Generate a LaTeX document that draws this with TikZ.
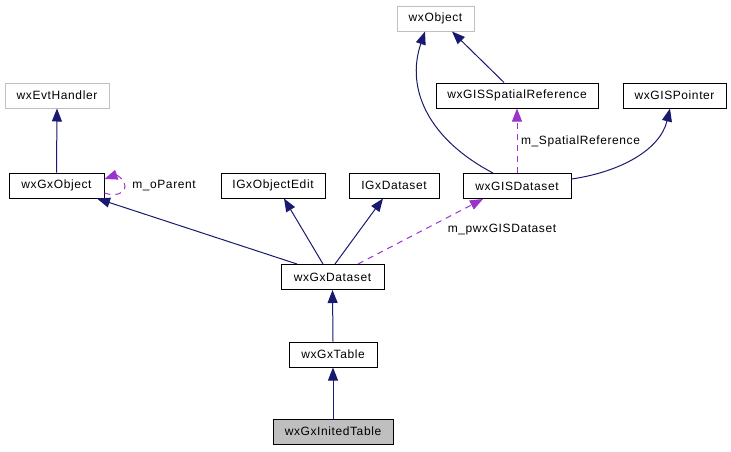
\documentclass[tikz,border=0pt]{standalone}
\usepackage{fontspec}
\setmainfont[LetterSpace=5]{Liberation Sans}
\usetikzlibrary{arrows.meta}
\definecolor{edgeblue}{HTML}{191970}
\definecolor{edgepurple}{HTML}{9A32CD}
\definecolor{boxgray}{HTML}{BFBFBF}
\tikzset{
  cls/.style={draw=black, line width=1pt, minimum height=25pt, inner sep=0pt, font=\fontsize{12}{14}\selectfont, fill=white},
  ext/.style={cls, draw=boxgray},
  inh/.style={draw=edgeblue, line width=1pt, -{Triangle[length=13pt,width=10pt]}},
  use/.style={draw=edgepurple, line width=1pt, dash pattern=on 6pt off 5pt, -{Triangle[length=13pt,width=10pt]}},
  lbl/.style={font=\fontsize{12}{14}\selectfont, inner sep=0pt}
}
\begin{document}
\begin{tikzpicture}[x=1pt,y=-1pt]
\useasboundingbox (0,0) rectangle (731,451);
% nodes
\node[ext, minimum width=77pt] (wxobj) at (435.5,18.5) {wxObject};
\node[ext, minimum width=104pt] (evt) at (57,95.5) {wxEvtHandler};
\node[cls, minimum width=162pt] (spref) at (517,95.5) {wxGISSpatialReference};
\node[cls, minimum width=103pt] (ptr) at (674.5,95.5) {wxGISPointer};
\node[cls, minimum width=95pt] (gxobj) at (56.5,185.5) {wxGxObject};
\node[cls, minimum width=104pt] (objedit) at (273,185.5) {IGxObjectEdit};
\node[cls, minimum width=90pt] (igxds) at (394,185.5) {IGxDataset};
\node[cls, minimum width=108pt] (gisds) at (517,186) {wxGISDataset};
\node[cls, minimum width=103pt] (gxds) at (332.5,277) {wxGxDataset};
\node[cls, minimum width=88pt] (gxtab) at (333,354.5) {wxGxTable};
\node[cls, minimum width=120pt, fill=boxgray] (inited) at (333,431.5) {wxGxInitedTable};
% edges
\draw[inh] (gxobj.north) -- (evt.south);
\draw[use] ([yshift=-7.5pt]gxobj.east) .. controls (116,197) and (125,193) .. (125,186)
  .. controls (125,179) and (116,175) .. ([yshift=6.5pt]gxobj.east);
\node[lbl] (lbloparent) at (164,185.5) {m\_oParent};
\draw[inh] ([xshift=-35.5pt]gxds.north) -- ([xshift=40.5pt]gxobj.south);
\draw[inh] ([xshift=-9.5pt]gxds.north) -- ([xshift=11pt]objedit.south);
\draw[inh] ([xshift=2.5pt]gxds.north) -- ([xshift=-11pt]igxds.south);
\draw[use] ([xshift=25.5pt]gxds.north) -- ([xshift=-34pt]gisds.south);
\node[lbl] (lblpwx) at (502,230) {m\_pwxGISDataset};
\draw[inh] ([xshift=-24pt]gisds.north) .. controls (430,140) and (405,90) .. ([xshift=-10.5pt]wxobj.south);
\draw[inh] ([xshift=-13pt]spref.north) -- ([xshift=16.5pt]wxobj.south);
\draw[use] (gisds.north) -- (spref.south);
\node[lbl] (lblspref) at (580.5,141) {m\_SpatialReference};
\draw[inh] ([yshift=7pt]gisds.east) .. controls (620,172) and (660,150) .. ([xshift=-4.5pt]ptr.south);
\draw[inh] (gxtab.north) -- (gxds.south);
\draw[inh] (inited.north) -- (gxtab.south);
\end{tikzpicture}
\end{document}
